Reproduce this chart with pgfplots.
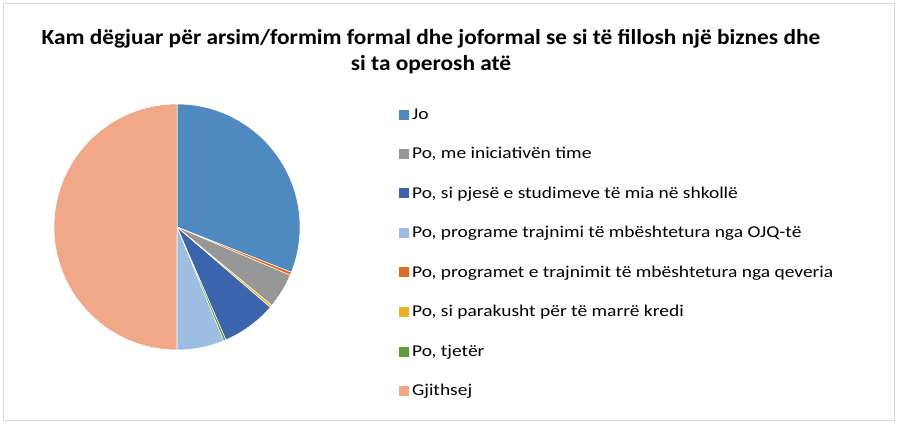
\documentclass[border=0pt]{standalone}
\usepackage{pgfplots}
\pgfplotsset{compat=1.18}
\usepackage{fontspec}
\setmainfont{Carlito}
\newfontfamily\titlefont{Carlito}[FakeStretch=1.085]
\newfontfamily\legfont{Carlito}[FakeStretch=1.18]
\definecolor{cJo}{HTML}{4E89C0}
\definecolor{cInit}{HTML}{979797}
\definecolor{cSchool}{HTML}{3B64AD}
\definecolor{cNGO}{HTML}{9DBDE2}
\definecolor{cGov}{HTML}{DD6E26}
\definecolor{cCredit}{HTML}{E7AF22}
\definecolor{cOther}{HTML}{5E9D3B}
\definecolor{cTot}{HTML}{F1A888}
\begin{document}
\begin{tikzpicture}[x=1pt,y=1pt]
\useasboundingbox (0,0) rectangle (898,424);
\draw[color=black!15, line width=1pt] (3.5,3.5) rectangle (894.5,420.5);
\node[font=\titlefont\bfseries\fontsize{21.5}{26.5}\selectfont, align=center] at (431,372.5) {Kam dëgjuar për arsim/formim formal dhe joformal se si të fillosh një biznes dhe\\si ta operosh atë};
% slice values (percent), in pie order clockwise from 12 o'clock
\def\vJo{31.0}
\def\vGov{0.4}
\def\vInit{4.6}
\def\vCredit{0.3}
\def\vSchool{7.2}
\def\vOther{0.3}
\def\vNGO{6.2}
\def\vTot{50.0}
\pgfmathsetmacro\cA{0}
\pgfmathsetmacro\cB{\cA+\vJo}
\pgfmathsetmacro\cC{\cB+\vGov}
\pgfmathsetmacro\cD{\cC+\vInit}
\pgfmathsetmacro\cE{\cD+\vCredit}
\pgfmathsetmacro\cF{\cE+\vSchool}
\pgfmathsetmacro\cG{\cF+\vOther}
\pgfmathsetmacro\cH{\cG+\vNGO}
\pgfmathsetmacro\cI{\cH+\vTot}
\newcommand\slice[3]{%
  \pgfmathsetmacro\aLo{90-3.6*#3}%
  \pgfmathsetmacro\aHi{90-3.6*#2}%
  \edef\tmp{\noexpand\addplot[fill=#1, draw=white, line width=0.5pt, domain=\aLo:\aHi, samples=90]}%
  \tmp ({cos(x)},{sin(x)}) -- (axis cs:0,0) -- cycle;}
\begin{axis}[
  at={(54pt,74pt)}, anchor=south west,
  scale only axis, width=246pt, height=246pt,
  xmin=-1, xmax=1, ymin=-1, ymax=1,
  hide axis, clip=false,
  legend style={at={(axis description cs:1.402,0.99)}, anchor=north west,
    draw=none, fill=none, inner sep=0pt, row sep=22.6pt,
    font=\legfont\fontsize{16.5}{19}\selectfont,
    nodes={inner xsep=3pt}},
  legend cell align=left,
  legend image code/.code={\fill[#1, draw=none] (0pt,-5pt) rectangle (10pt,5pt);},
]
\slice{cJo}{\cA}{\cB}
\addlegendentry{Jo}
\slice{cInit}{\cC}{\cD}
\addlegendentry{Po, me iniciativën time}
\slice{cSchool}{\cE}{\cF}
\addlegendentry{Po, si pjesë e studimeve të mia në shkollë}
\slice{cNGO}{\cG}{\cH}
\addlegendentry{Po, programe trajnimi të mbështetura nga OJQ-të}
\slice{cGov}{\cB}{\cC}
\addlegendentry{Po, programet e trajnimit të mbështetura nga qeveria}
\slice{cCredit}{\cD}{\cE}
\addlegendentry{Po, si parakusht për të marrë kredi}
\slice{cOther}{\cF}{\cG}
\addlegendentry{Po, tjetër}
\slice{cTot}{\cH}{\cI}
\addlegendentry{Gjithsej}
\end{axis}
\end{tikzpicture}
\end{document}
